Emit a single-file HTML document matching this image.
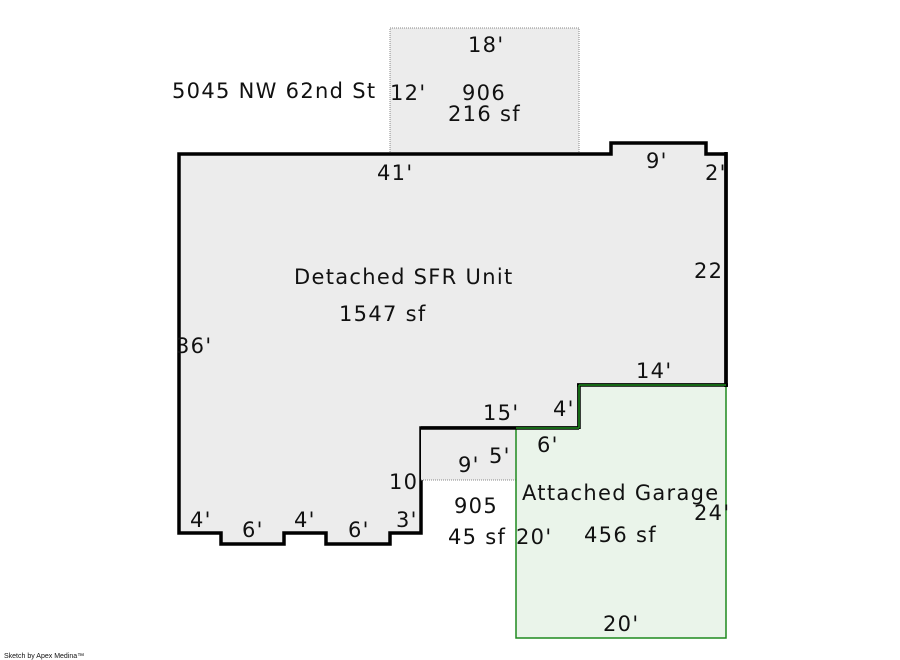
<!DOCTYPE html>
<html><head><meta charset="utf-8"><style>
html,body{margin:0;padding:0;background:#fff;width:900px;height:660px;overflow:hidden}
svg text{font-family:"DejaVu Sans","Liberation Sans",sans-serif;font-size:21px;letter-spacing:1.3px;fill:#111}
</style></head><body>
<svg width="900" height="660" viewBox="0 0 900 660" xmlns="http://www.w3.org/2000/svg">
<rect x="390" y="28" width="189" height="126" fill="#ececec" stroke="#888" stroke-width="1" stroke-dasharray="1,1"/>
<polygon points="179,154 611,154 611,143 706,143 706,154 726,154 726,385 579,385 579,428 421,428 421,533 390,533 390,544 326,544 326,533 284,533 284,544 221,544 221,533 179,533" fill="#ececec" stroke="#000" stroke-width="3.5" stroke-linejoin="miter"/>
<rect x="421" y="428" width="95" height="52" fill="#ececec"/>
<line x1="421" y1="480" x2="516" y2="480" stroke="#888" stroke-width="1" stroke-dasharray="1,1"/>
<polygon points="516,428 579,428 579,385 726,385 726,638 516,638" fill="#eaf4ea" stroke="#1e8a1e" stroke-width="1.5"/>
<line x1="421" y1="428" x2="579" y2="428" stroke="#000" stroke-width="3.5"/>
<line x1="579" y1="385" x2="579" y2="429" stroke="#000" stroke-width="3.5"/>
<line x1="577" y1="385" x2="728" y2="385" stroke="#000" stroke-width="3.5"/>
<line x1="726" y1="152" x2="726" y2="387" stroke="#000" stroke-width="3.5"/>
<line x1="516" y1="428" x2="579" y2="428" stroke="#1e8a1e" stroke-width="1.5"/>
<line x1="579" y1="385" x2="579" y2="428" stroke="#1e8a1e" stroke-width="1.5"/>
<line x1="579" y1="385" x2="726" y2="385" stroke="#1e8a1e" stroke-width="1.5"/>
<text x="172" y="98">5045 NW 62nd St</text>
<text x="468" y="52">18'</text>
<text x="390" y="100">12'</text>
<text x="462" y="100">906</text>
<text x="448" y="121">216 sf</text>
<text x="377" y="180">41'</text>
<text x="646" y="168">9'</text>
<text x="705" y="180">2'</text>
<text x="694" y="278">22</text>
<text x="294" y="284">Detached SFR Unit</text>
<text x="339" y="321">1547 sf</text>
<text x="176" y="353">36'</text>
<text x="636" y="378">14'</text>
<text x="483" y="420">15'</text>
<text x="553" y="416">4'</text>
<text x="537" y="452">6'</text>
<text x="489" y="463">5'</text>
<text x="458" y="472">9'</text>
<text x="389" y="489">10</text>
<text x="454" y="513">905</text>
<text x="448" y="544">45 sf</text>
<text x="516" y="544">20'</text>
<text x="522" y="500">Attached Garage</text>
<text x="694" y="520">24'</text>
<text x="584" y="542">456 sf</text>
<text x="603" y="631">20'</text>
<text x="190" y="527">4'</text>
<text x="242" y="537">6'</text>
<text x="294" y="527">4'</text>
<text x="348" y="537">6'</text>
<text x="396" y="527">3'</text>
<text x="4" y="658" style="font-size:7px;letter-spacing:0;font-family:'Liberation Sans',sans-serif">Sketch by Apex Medina™</text>
</svg>
</body></html>
